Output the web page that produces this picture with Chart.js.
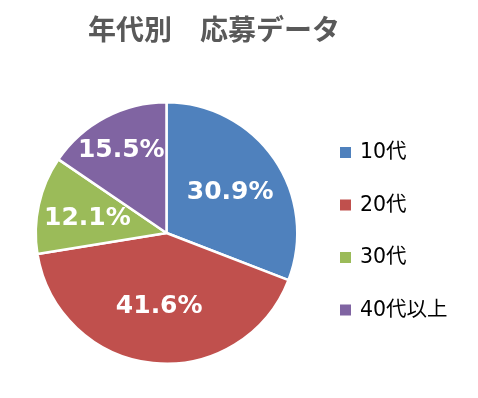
<!DOCTYPE html>
<html lang="ja">
<head>
<meta charset="utf-8">
<script src="https://cdn.jsdelivr.net/npm/chart.js@4/dist/chart.umd.min.js"></script>
<style>
  html, body { margin: 0; padding: 0; background: #fff; }
  #wrap { width: 478px; height: 398px; position: relative; }
</style>
</head>
<body>
<div id="wrap"><canvas id="chart"></canvas></div>
<script>
'use strict';

// ---- data ----
const chartTitle = '年代別　応募データ';
const categories = ['10代', '20代', '30代', '40代以上'];
const shares = [30.9, 41.6, 12.1, 15.5];
const sliceColors = ['#4F81BD', '#C0504D', '#9BBB59', '#8064A2'];

// radial position of each % label, as a fraction of the radius
const labelRadius = [0.59, 0.54, 0.62, 0.74];

const JP_FONT = '"DejaVu Sans", "Noto Sans CJK JP", sans-serif';

// title, slice labels and legend drawn by hand to match the original layout
const decorPlugin = {
  id: 'decor',
  afterDatasetsDraw(chart) {
    const ctx = chart.ctx;
    const meta = chart.getDatasetMeta(0);
    ctx.save();

    // slice labels
    ctx.fillStyle = '#fff';
    ctx.font = 'bold 25px ' + JP_FONT;
    ctx.textAlign = 'center';
    ctx.textBaseline = 'middle';
    meta.data.forEach((arc, i) => {
      const p = arc.getProps(['x', 'y', 'startAngle', 'endAngle', 'outerRadius'], true);
      const mid = (p.startAngle + p.endAngle) / 2;
      const r = p.outerRadius * labelRadius[i];
      ctx.fillText(shares[i].toFixed(1) + '%', p.x + Math.cos(mid) * r, p.y + Math.sin(mid) * r + 3);
    });

    // title
    ctx.fillStyle = '#595959';
    ctx.font = 'bold 28px "Noto Sans CJK JP", sans-serif';
    ctx.fillText(chartTitle, 214, 29);

    // legend
    ctx.textAlign = 'left';
    ctx.font = '20.5px ' + JP_FONT;
    categories.forEach((c, i) => {
      const y = 152 + i * 52.5;
      ctx.fillStyle = sliceColors[i];
      ctx.fillRect(340, y - 5, 11, 11);
      ctx.fillStyle = '#000';
      ctx.fillText(c, 360, y + 1);
    });

    ctx.restore();
  }
};

new Chart(document.getElementById('chart'), {
  type: 'pie',
  data: {
    labels: categories,
    datasets: [{
      data: shares,
      backgroundColor: sliceColors,
      borderColor: '#fff',
      borderWidth: 2.5
    }]
  },
  options: {
    responsive: true,
    maintainAspectRatio: false,
    animation: false,
    layout: { padding: { left: 34, right: 179, top: 101, bottom: 33 } },
    plugins: {
      legend: { display: false },
      title: { display: false },
      tooltip: { enabled: false }
    }
  },
  plugins: [decorPlugin]
});
</script>
</body>
</html>
